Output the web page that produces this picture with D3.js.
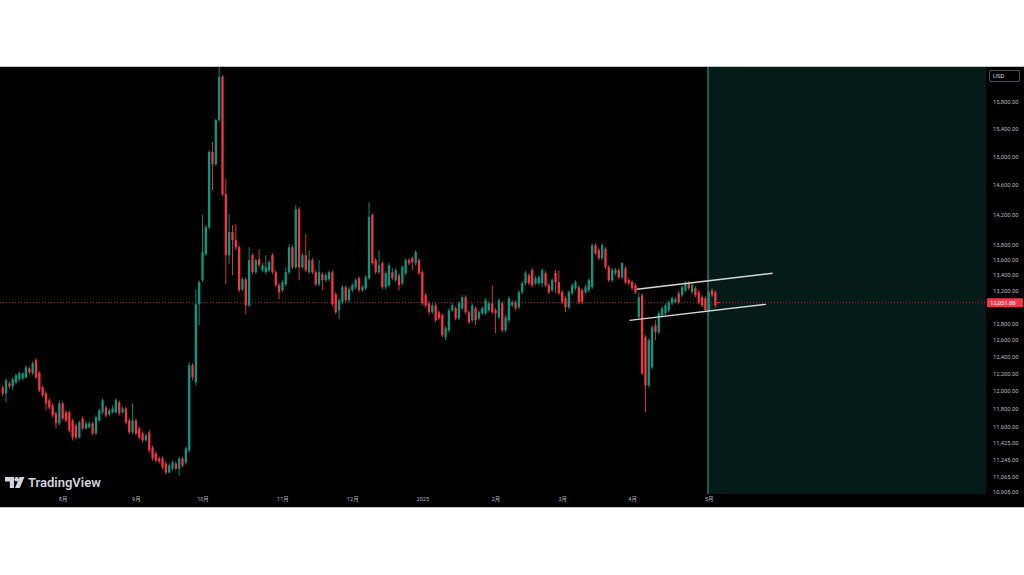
<!DOCTYPE html>
<html><head><meta charset="utf-8">
<script src="https://cdn.jsdelivr.net/npm/d3@7"></script>
<style>html,body{margin:0;padding:0;background:#fff;overflow:hidden}svg{display:block}</style>
</head><body>
<svg id="c" width="1024" height="575"></svg>
<script>
// ---- data (daily candles) ----
const opens=[12041,11973,12087,12052,12099,12134,12145,12157,12262,12203,12355,12215,12041,11973,11893,11836,11746,11635,11859,11758,11758,11668,11613,11481,11690,11580,11591,11635,11525,11668,11758,11814,11735,11758,11758,11870,11758,11802,11668,11536,11668,11580,11525,11448,11536,11372,11307,11253,11253,11199,11104,11146,11199,11146,11253,11210,11339,12297,12099,13032,13334,13669,14025,15065,14893,15531,16181,14474,13656,13959,13852,13760,13221,13347,13020,13656,13436,13604,13462,13436,13462,13656,13436,13271,13208,13284,13436,13760,13500,14268,13500,13656,13436,13591,13436,13284,13411,13334,13347,13436,13158,12958,13057,13246,13082,13208,13246,13360,13208,13233,13360,14187,13591,13436,13552,13246,13271,13436,13334,13398,13296,13424,13591,13617,13552,13591,13436,13145,13045,12934,13020,12934,12897,12629,12714,12958,12983,12860,12983,13120,12934,12835,12983,12860,12921,12921,12958,13045,12958,12872,13045,12714,12835,13020,13057,12995,13183,13296,13398,13462,13296,13296,13296,13424,13271,13208,13424,13309,13183,13107,12995,13170,13233,13246,13208,13183,13208,13246,13786,13721,13617,13734,13500,13334,13424,13462,13372,13488,13334,13309,13271,12872,13145,12629,12064,12273,12774,12690,12897,12921,12958,13045,13057,13170,13145,13208,13296,13183,13233,13183,13120,13107,12958,13208,13183,13060];
const highs=[12064,12145,12110,12157,12203,12226,12215,12297,12285,12343,12379,12226,12064,11996,11916,11859,11769,11893,11882,11780,11780,11690,11635,11668,11713,11657,11657,11657,11724,11802,11916,11836,11802,11836,11916,11893,11825,11825,11690,11859,11690,11602,11547,11525,11558,11394,11329,11274,11274,11221,11199,11232,11221,11274,11274,11383,12332,12320,13221,13334,14187,14052,15093,15209,15546,16336,16212,14682,14200,14052,14065,13786,13372,13372,13760,13682,13617,13734,13552,13656,13591,13682,13462,13296,13334,13500,13799,13786,14322,14295,13682,13932,13721,13617,13462,13591,13436,13424,13462,13462,13183,13107,13271,13271,13246,13296,13360,13385,13271,13398,14363,14214,13617,13721,13578,13449,13552,13488,13488,13424,13526,13617,13617,13643,13721,13617,13462,13170,13070,13045,13045,12958,12921,12762,12983,13045,13007,13070,13145,13145,12958,13045,13007,12958,13007,13107,13070,13271,12983,13107,13070,12897,13132,13082,13082,13208,13322,13449,13424,13488,13385,13398,13488,13449,13296,13360,13462,13462,13208,13132,13208,13296,13334,13271,13233,13271,13360,13812,13812,13747,13812,13760,13526,13488,13488,13488,13565,13513,13360,13334,13296,13183,13170,12653,12617,12774,12835,12946,13007,13045,13082,13132,13120,13196,13271,13322,13322,13296,13258,13208,13145,13132,13208,13233,13208,13065];
const lows=[11939,11870,12030,12007,12076,12110,12122,12145,12192,12180,12134,11984,11927,11780,11791,11702,11580,11613,11668,11646,11536,11448,11459,11470,11558,11569,11580,11503,11503,11657,11735,11702,11713,11746,11746,11724,11746,11624,11514,11514,11503,11459,11426,11437,11318,11232,11210,11199,11136,11083,11093,11125,11125,11072,11157,11189,11318,12122,12064,12774,13309,13643,13998,14529,14865,15502,14446,13284,13539,13398,13721,13183,13196,12909,12995,13411,13411,13500,13436,13411,13436,13411,13246,13095,13183,13258,13411,13475,13475,13334,13475,13436,13411,13411,13258,13258,13208,13309,13322,13007,12909,12847,13032,13057,13057,13183,13221,13183,13183,13208,13334,13526,13411,13411,13221,13221,13246,13334,13309,13208,13271,13398,13526,13462,13526,13398,13020,12995,12909,12909,12811,12835,12629,12593,12690,12934,12835,12835,12958,12909,12786,12811,12774,12835,12897,12897,12934,12909,12678,12847,12690,12690,12811,12995,12958,12970,13158,13271,13271,13246,13271,13271,13246,13246,13158,13183,13170,13145,13032,12934,12970,13145,13208,13032,13032,13158,13183,13221,13656,13591,13591,13475,13309,13309,13398,13347,13347,13284,13271,13208,13158,12860,12180,11758,12041,12250,12593,12666,12872,12897,12934,13020,13045,13032,13120,13183,13208,13158,13120,13032,12995,12934,12934,13120,12995,13045];
const closes=[11972,12122,12052,12134,12180,12203,12203,12273,12215,12320,12157,12007,11950,11859,11814,11724,11635,11859,11690,11668,11558,11481,11481,11646,11580,11635,11635,11525,11702,11780,11893,11724,11780,11802,11893,11746,11802,11646,11536,11668,11525,11481,11448,11503,11339,11253,11232,11221,11157,11104,11178,11210,11146,11253,11178,11361,12297,12157,13032,13309,13695,14025,15065,14893,15531,16181,14474,13656,13959,13852,13760,13208,13347,13020,13591,13436,13591,13526,13526,13500,13565,13436,13271,13183,13309,13436,13760,13500,14268,13500,13656,13462,13591,13436,13284,13436,13334,13398,13436,13032,12934,13082,13246,13082,13221,13271,13334,13208,13246,13372,14160,13552,13436,13526,13246,13424,13526,13360,13462,13271,13500,13591,13552,13565,13695,13424,13045,13020,12934,13020,12835,12860,12653,12738,12958,13020,12860,13045,13120,12934,12811,13020,12835,12934,12983,13082,13045,12934,12921,13082,12714,12872,13107,13057,12983,13183,13296,13424,13296,13271,13360,13372,13462,13271,13183,13334,13309,13170,13057,12995,13183,13271,13309,13057,13057,13246,13334,13786,13682,13617,13786,13500,13334,13462,13462,13372,13552,13309,13296,13233,13183,13120,12203,12064,12593,12750,12690,12921,12983,13020,13057,13107,13095,13057,13246,13296,13233,13271,13145,13057,13020,12958,13183,13145,13020,13051.88];
const monthLabels=["8月","9月","10月","11月","12月","2025","2月","3月","4月","5月"];
const monthIndex=[18,40,60,84,105,126,148,168,189,212];
const priceTicks=[15800,15400,15000,14600,14200,13800,13600,13400,13200,12800,12600,12400,12200,12000,11800,11600,11425,11245,11065,10905];
const lastPrice=13051.88;
const currency="USD";
const channelUpper=[[190.4,13221],[231.2,13424]];
const channelLower=[[188.2,12835],[229.2,13032]];
const futureStart=212;

// ---- drawing ----
const W=1024;
const chartTop=67, chartBottom=507, plotRight=986, plotBottom=494;
const UP="#089981", DOWN="#f23645";
const svg=d3.select("#c");

svg.append("rect").attr("x",0).attr("y",chartTop).attr("width",W).attr("height",chartBottom-chartTop).attr("fill","#000");
svg.append("line").attr("x1",0).attr("x2",W).attr("y1",chartTop-0.5).attr("y2",chartTop-0.5).attr("stroke","#c4c4c4");
svg.append("line").attr("x1",0).attr("x2",W).attr("y1",chartBottom+0.5).attr("y2",chartBottom+0.5).attr("stroke","#c4c4c4");

const x=d3.scaleLinear().domain([0,215]).range([2.7,718.7]);
const y=d3.scaleLog().domain([15800,10905]).range([102,491.5]);

svg.append("defs").append("clipPath").attr("id","plot")
  .append("rect").attr("x",0).attr("y",chartTop).attr("width",plotRight).attr("height",plotBottom-chartTop);

// future shaded box
const bx=x(futureStart)-0.7;
svg.append("rect").attr("x",bx).attr("y",chartTop).attr("width",plotRight-bx).attr("height",plotBottom-chartTop)
  .attr("fill","#051b17");
svg.append("line").attr("x1",bx).attr("x2",bx).attr("y1",chartTop).attr("y2",plotBottom)
  .attr("stroke","#1c7a68").attr("stroke-width",1.5);

// last price dotted line
svg.append("line").attr("x1",0).attr("x2",plotRight).attr("y1",y(lastPrice)).attr("y2",y(lastPrice))
  .attr("stroke",DOWN).attr("stroke-opacity",0.65).attr("stroke-width",1).attr("stroke-dasharray","1,2");

// candles
const idx=d3.range(opens.length);
const g=svg.append("g").attr("clip-path","url(#plot)");
const bw=2.3;
g.selectAll("line.wick").data(idx).join("line").attr("class","wick")
  .attr("x1",i=>x(i)).attr("x2",i=>x(i))
  .attr("y1",i=>y(highs[i])).attr("y2",i=>y(lows[i]))
  .attr("stroke",i=>closes[i]>=opens[i]?UP:DOWN).attr("stroke-width",0.9);
g.selectAll("rect.body").data(idx).join("rect").attr("class","body")
  .attr("x",i=>x(i)-bw/2).attr("width",bw)
  .attr("y",i=>y(Math.max(opens[i],closes[i])))
  .attr("height",i=>Math.max(0.8,Math.abs(y(opens[i])-y(closes[i]))))
  .attr("fill",i=>closes[i]>=opens[i]?UP:DOWN);

// channel lines
const ln=d3.line().x(d=>x(d[0])).y(d=>y(d[1]));
[channelUpper,channelLower].forEach(c=>{
  svg.append("path").attr("d",ln(c)).attr("fill","none").attr("stroke","#d6d6d6").attr("stroke-width",1.4);
});

// right price axis
const ya=svg.append("g").attr("transform",`translate(990,0)`)
  .call(d3.axisRight(y).tickValues(priceTicks).tickFormat(d3.format(",.2f")).tickSize(0).tickPadding(3));
ya.select(".domain").remove();
ya.selectAll("text").attr("fill","#b2b5be").attr("font-size","5.8px").attr("font-family","Roboto, 'Liberation Sans', sans-serif");

// USD box
svg.append("rect").attr("x",989.5).attr("y",70.5).attr("width",30).attr("height",11).attr("fill","#000").attr("stroke","#4a4d57").attr("rx",1.5);
svg.append("text").attr("x",993).attr("y",78.3).text(currency).attr("fill","#d1d4dc").attr("font-size","6px").attr("font-family","Roboto, sans-serif");

// last price label
svg.append("rect").attr("x",987).attr("y",y(lastPrice)-4.5).attr("width",36).attr("height",9).attr("fill",DOWN).attr("rx",1);
svg.append("text").attr("x",990).attr("y",y(lastPrice)+2.1).text(d3.format(",.2f")(lastPrice))
  .attr("fill","#fff").attr("font-size","5.8px").attr("font-family","Roboto, sans-serif");

// bottom time axis
const xa=svg.append("g").attr("transform",`translate(0,${plotBottom+1})`)
  .call(d3.axisBottom(x).tickValues(monthIndex).tickFormat((d,i)=>monthLabels[i]).tickSize(0).tickPadding(2));
xa.select(".domain").remove();
xa.selectAll("text").attr("fill","#b2b5be").attr("font-size","5.5px").attr("font-family","Roboto, 'Noto Sans CJK JP', sans-serif");

// TradingView logo
const lg=svg.append("g").attr("transform","translate(5,476)").attr("fill","#d1d4dc");
lg.append("path").attr("d","M0,1 h9 v11 h-4.2 v-6.6 h-4.8 z");
lg.append("circle").attr("cx",11.6).attr("cy",3.2).attr("r",2.2);
lg.append("path").attr("d","M14.6,1 h4.8 l-4.6,11 h-4.8 z");
svg.append("text").attr("x",28).attr("y",487).text("TradingView").attr("fill","#d1d4dc")
  .attr("font-size","13px").attr("font-weight",600).attr("font-family","Roboto, 'Open Sans', sans-serif");
</script>
</body></html>
